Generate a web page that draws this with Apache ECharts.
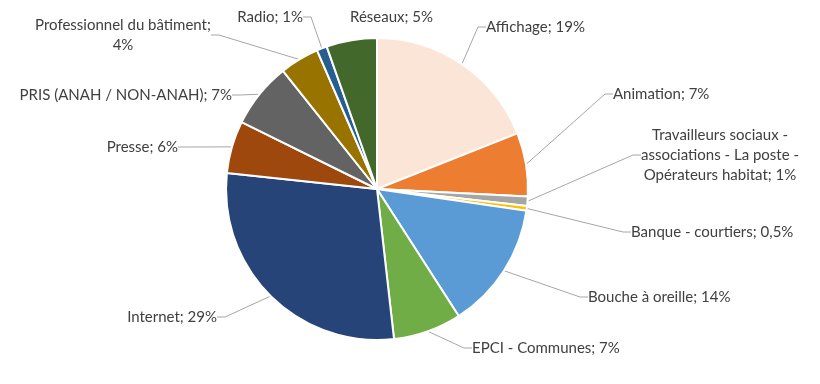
<!DOCTYPE html>
<html>
<head>
<meta charset="utf-8">
<script src="https://cdn.jsdelivr.net/npm/echarts@6/dist/echarts.min.js"></script>
<style>html,body{margin:0;padding:0;background:#fff}#c{width:820px;height:384px}</style>
</head>
<body>
<div id="c"></div>
<script>
const categories = [
  "Affichage", "Animation",
  "Travailleurs sociaux -\nassociations - La poste -\nOpérateurs habitat",
  "Banque - courtiers", "Bouche à oreille", "EPCI - Communes", "Internet",
  "Presse", "PRIS (ANAH / NON-ANAH)", "Professionnel du bâtiment;\n", "Radio", "Réseaux"
];
const values = [19, 6.8, 1, 0.5, 13.6, 7.3, 28.5, 5.6, 7, 4.2, 1.1, 5.4];
const percentLabels = ["19%", "7%", "1%", "0,5%", "14%", "7%", "29%", "6%", "7%", "4%", "1%", "5%"];
const colors = ["#FBE5D6", "#ED7D31", "#A5A5A5", "#FFC000", "#5B9BD5", "#70AD47",
  "#264478", "#9E480E", "#636363", "#997300", "#255E91", "#43682B"];

// label anchor placement (x, y, align)
const labelPos = [
  [486, 27, 'left'], [613, 94, 'left'], [720, 155, 'center'], [631, 232, 'left'],
  [588, 297, 'left'], [472, 348, 'left'], [217, 317, 'right'], [178, 147, 'right'],
  [232, 95, 'right'], [123, 35, 'center'], [303, 17, 'right'], [350, 17, 'left']
];

const chart = echarts.init(document.getElementById('c'), null, {renderer: 'canvas'});
chart.setOption({
  animation: false,
  series: [{
    type: 'pie',
    center: [377, 189],
    radius: 151,
    startAngle: 90,
    clockwise: true,
    avoidLabelOverlap: false,
    itemStyle: {borderColor: '#fff', borderWidth: 2},
    label: {
      show: true,
      position: 'outside',
      fontFamily: 'Lato',
      fontSize: 15,
      color: '#404040',
      lineHeight: 20,
      formatter: p => {
        const name = categories[p.dataIndex];
        if (name.endsWith(';\n')) return name + percentLabels[p.dataIndex];
        return name + '; ' + percentLabels[p.dataIndex];
      }
    },
    labelLine: {show: true, length: 10, length2: 8, lineStyle: {color: '#A6A6A6', width: 1}},
    labelLayout: p => {
      const lp = labelPos[p.dataIndex];
      return {x: lp[0], y: lp[1], align: lp[2], verticalAlign: 'middle'};
    },
    data: values.map((v, i) => ({
      name: categories[i], value: v, itemStyle: {color: colors[i]},
      labelLine: i === 11 ? {show: false} : undefined
    }))
  }]
});
</script>
</body>
</html>
